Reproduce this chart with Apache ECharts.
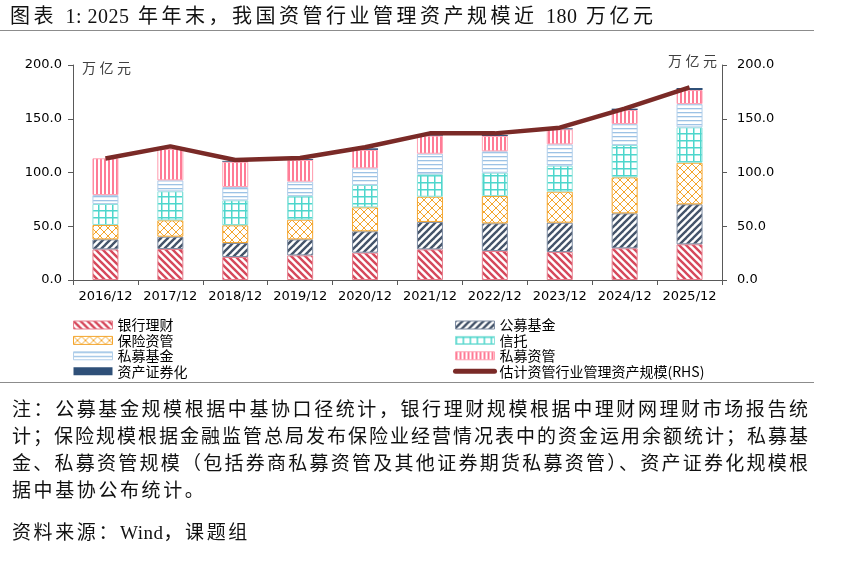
<!DOCTYPE html>
<html>
<head>
<meta charset="utf-8">
<script src="https://cdn.jsdelivr.net/npm/echarts@6/dist/echarts.min.js"></script>
<style>
  html, body { margin:0; padding:0; background:#fff; }
  #wrap { position:relative; width:864px; height:581px; overflow:hidden; background:#fff; }
  #chart { position:absolute; left:0; top:0; width:864px; height:581px; }
  .txt { position:absolute; font-family:"Liberation Serif","Noto Sans CJK SC",serif; color:#111; white-space:nowrap; }
  .lat { letter-spacing:0.5px; }
  .title { left:10px; top:2px; font-size:20px; letter-spacing:3.5px; line-height:28px; }
  .rule { position:absolute; left:0; width:814px; height:0; border-top:1.5px solid #8c8c8c; }
  .note { left:12px; width:796px; font-size:19px; line-height:26px; text-align:justify; text-align-last:justify; }
  .note.last { text-align-last:left; width:auto; letter-spacing:2.6px; }
  .unit { position:absolute; font-family:"Noto Sans CJK SC",sans-serif; font-size:14px; letter-spacing:3.5px; color:#404040; }
</style>
</head>
<body>
<div id="wrap">
  <div id="chart"></div>
  <div class="txt title">图表 <span class="lat">1:&nbsp;2025</span> 年年末，我国资管行业管理资产规模近 <span class="lat">180</span> 万亿元</div>
  <div class="rule" style="top:30px;"></div>
  <div class="unit" style="left:82px; top:57px;">万亿元</div>
  <div class="unit" style="left:668px; top:50px;">万亿元</div>
  <div class="rule" style="top:382px;"></div>
  <div class="txt note" style="top:397px;">注：公募基金规模根据中基协口径统计，银行理财规模根据中理财网理财市场报告统</div>
  <div class="txt note" style="top:424px;">计；保险规模根据金融监管总局发布保险业经营情况表中的资金运用余额统计；私募基</div>
  <div class="txt note" style="top:451px;">金、私募资管规模（包括券商私募资管及其他证券期货私募资管）、资产证券化规模根</div>
  <div class="txt note last" style="top:478px;">据中基协公布统计。</div>
  <div class="txt note last" style="top:520px;">资料来源：<span class="lat">Wind</span>，课题组</div>
</div>
<script>
// ---------------- data ----------------
const categories = ['2016/12','2017/12','2018/12','2019/12','2020/12','2021/12','2022/12','2023/12','2024/12','2025/12'];
const bankWM      = [28.5, 28.8, 21.4, 22.9, 25.4, 28.5, 27.0, 26.0, 29.5, 33.2];
const publicFund  = [9.3, 11.5, 13.0, 14.9, 19.9, 25.5, 25.7, 27.3, 32.5, 37.2];
const insuranceAM = [13.4, 15.2, 16.5, 18.3, 22.3, 23.5, 25.4, 28.9, 33.5, 38.7];
const trust       = [19.5, 27.0, 23.2, 22.0, 20.8, 20.8, 21.7, 24.2, 30.1, 32.9];
const privateFund = [8.3, 10.2, 12.4, 13.4, 15.5, 19.2, 19.9, 19.8, 19.5, 21.7];
const privateAM   = [34.2, 29.2, 23.5, 20.1, 17.1, 16.8, 14.3, 14.0, 13.0, 13.0];
const abs         = [0, 0, 0.8, 0.9, 1.5, 0.9, 0.9, 0.9, 1.3, 1.9];
const totalAUM    = [113.0, 124.3, 111.6, 113.5, 123.5, 136.4, 136.4, 141.7, 159.4, 179.2];
const yTicks = { min: 0, max: 200, interval: 50 };
const names = ['银行理财','公募基金','保险资管','信托','私募基金','私募资管','资产证券化','估计资管行业管理资产规模(RHS)'];

// ---------------- patterns ----------------
function pat(w, h, draw) {
  const c = document.createElement('canvas');
  c.width = w; c.height = h;
  const g = c.getContext('2d');
  g.fillStyle = '#ffffff'; g.fillRect(0, 0, w, h);
  draw(g, w, h);
  return { image: c, repeat: 'repeat' };
}
function diag(color, p, lw, dir) {
  return pat(p, p, (g) => {
    g.strokeStyle = color; g.lineWidth = lw; g.lineCap = 'square';
    for (let k = -p; k <= p; k += p) {
      g.beginPath();
      if (dir === '\\') { g.moveTo(k, 0); g.lineTo(k + p, p); }
      else { g.moveTo(k, p); g.lineTo(k + p, 0); }
      g.stroke();
    }
  });
}
const pBank = diag('#d6485b', 7, 2.4, '\\');
const pFund = diag('#44546a', 7, 2.4, '/');
const pIns = pat(8, 8, (g) => {
  g.strokeStyle = '#f4a52c'; g.lineWidth = 1;
  for (let k = -8; k <= 8; k += 8) {
    g.beginPath(); g.moveTo(k, 0); g.lineTo(k + 8, 8); g.stroke();
    g.beginPath(); g.moveTo(k, 8); g.lineTo(k + 8, 0); g.stroke();
  }
});
const pTrust = pat(7, 7, (g) => {
  g.fillStyle = '#4dd6cc';
  g.fillRect(0, 0, 7, 1.5);
  g.fillRect(0, 0, 1.5, 7);
});
const pPF = pat(4, 4, (g) => {
  g.fillStyle = '#9cc2e5';
  g.fillRect(0, 0, 4, 1.3);
});
const pPAM = pat(4, 4, (g) => {
  g.fillStyle = '#ff7b95';
  g.fillRect(0, 0, 2, 4);
});

function barSeries(name, data, color, border) {
  return {
    name, type: 'bar', stack: 'aum', data, barWidth: 26,
    itemStyle: { color, borderColor: border, borderWidth: 1 },
    emphasis: { disabled: true }
  };
}

const chart = echarts.init(document.getElementById('chart'), null, { renderer: 'canvas' });
const axisColor = '#595959';
const labelFont = { fontFamily: 'DejaVu Sans', fontSize: 13, color: '#000' };
const legendCommon = {
  orient: 'vertical', top: 313, itemWidth: 39, itemHeight: 8, itemGap: 1.4,
  textStyle: { fontFamily: 'Noto Sans CJK SC', fontSize: 14, color: '#000', lineHeight: 14 },
  itemStyle: { borderWidth: 1 },
  selectedMode: false
};

chart.setOption({
  animation: false,
  backgroundColor: 'transparent',
  grid: { left: 73, right: 142, top: 65, bottom: 301, containLabel: false },
  legend: [
    Object.assign({}, legendCommon, {
      left: 68,
      data: [names[0], names[2], names[4], names[6]].map(n => ({ name: n, icon: 'rect' }))
    }),
    Object.assign({}, legendCommon, {
      left: 448,
      lineStyle: { width: 5, cap: 'round' },
      data: [
        { name: names[1], icon: 'rect' },
        { name: names[3], icon: 'rect' },
        { name: names[5], icon: 'rect' },
        { name: names[7], itemStyle: { opacity: 0 } }
      ]
    })
  ],
  xAxis: {
    type: 'category', data: categories,
    axisLine: { lineStyle: { color: axisColor, width: 1 } },
    axisTick: { show: true, length: 5, lineStyle: { color: axisColor } },
    axisLabel: Object.assign({ margin: 10, interval: 0 }, labelFont)
  },
  yAxis: [
    {
      type: 'value', min: yTicks.min, max: yTicks.max, interval: yTicks.interval, position: 'left',
      axisLine: { show: true, lineStyle: { color: axisColor } },
      axisTick: { show: true, length: 5, lineStyle: { color: axisColor } },
      splitLine: { show: false },
      axisLabel: Object.assign({ margin: 11, formatter: v => v.toFixed(1) }, labelFont)
    },
    {
      type: 'value', min: yTicks.min, max: yTicks.max, interval: yTicks.interval, position: 'right',
      axisLine: { show: true, lineStyle: { color: axisColor } },
      axisTick: { show: true, length: 5, lineStyle: { color: axisColor } },
      splitLine: { show: false },
      axisLabel: Object.assign({ margin: 15, formatter: v => v.toFixed(1) }, labelFont)
    }
  ],
  series: [
    barSeries(names[0], bankWM, pBank, '#e77f8e'),
    barSeries(names[1], publicFund, pFund, '#7e8ca2'),
    barSeries(names[2], insuranceAM, pIns, '#f4a52c'),
    barSeries(names[3], trust, pTrust, '#8fe3dc'),
    barSeries(names[4], privateFund, pPF, '#b3cfea'),
    barSeries(names[5], privateAM, pPAM, '#ffa3b4'),
    {
      name: names[6], type: 'bar', stack: 'aum', data: abs, barWidth: 26,
      itemStyle: { color: '#2f5078', borderWidth: 0 }, emphasis: { disabled: true }
    },
    {
      name: names[7], type: 'line', yAxisIndex: 1, data: totalAUM, symbol: 'none',
      lineStyle: { color: '#7a2a27', width: 4.5 }, itemStyle: { color: '#7a2a27' }, z: 5,
      emphasis: { disabled: true }
    }
  ]
});
</script>
</body>
</html>
